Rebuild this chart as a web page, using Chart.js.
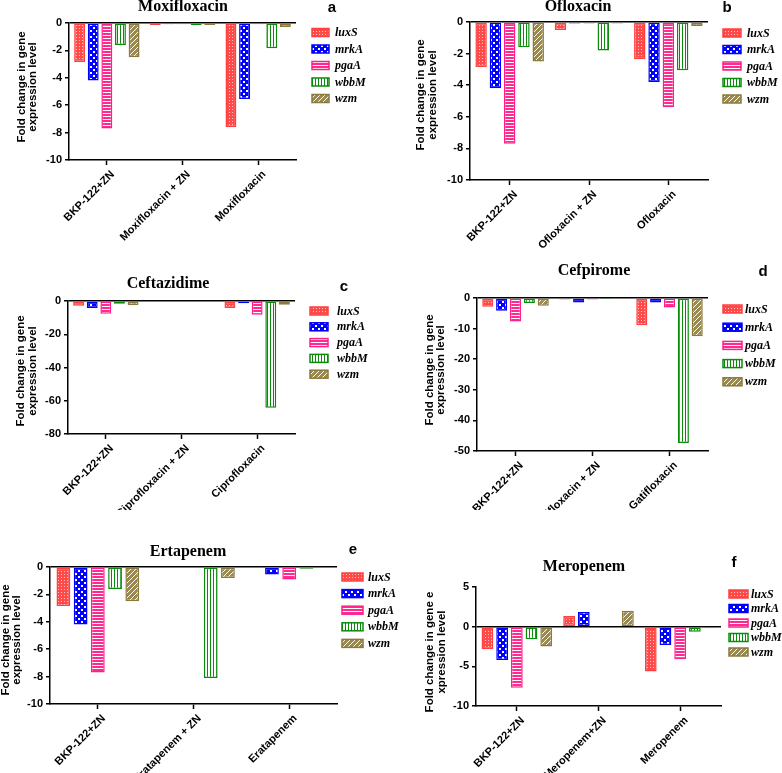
<!DOCTYPE html>
<html>
<head>
<meta charset="utf-8">
<script src="https://cdn.jsdelivr.net/npm/chart.js@4.4.1/dist/chart.umd.min.js"></script>
<style>
  html, body { margin: 0; padding: 0; background: #fff; }
  #wrap { position: relative; width: 782px; height: 773px; overflow: hidden; }
  #wrap canvas { position: absolute; }
</style>
</head>
<body>
<div id="wrap"></div>
<script>
// genes, one bar series each
const genes = ['luxS', 'mrkA', 'pgaA', 'wbbM', 'wzm'];

// rows follow the genes order: luxS, mrkA, pgaA, wbbM, wzm
const moxiLabels = ['BKP-122+ZN', 'Moxifloxacin + ZN', 'Moxifloxacin'];
const moxiValues = [
  [-2.85, -0.15, -7.6],
  [-4.2, -0.1, -5.55],
  [-7.7, -0.1, -0.1],
  [-1.6, -0.15, -1.85],
  [-2.5, -0.15, -0.3]
];

const oflxLabels = ['BKP-122+ZN', 'Ofloxacin + ZN', 'Ofloxacin'];
const oflxValues = [
  [-2.85, -0.5, -2.35],
  [-4.2, -0.1, -3.8],
  [-7.7, -0.1, -5.4],
  [-1.6, -1.8, -3.05],
  [-2.5, -0.1, -0.25]
];

const cftzLabels = ['BKP-122+ZN', 'Ciprofloxacin + ZN', 'Ciprofloxacin'];
const cftzValues = [
  [-2.85, -0.4, -4.2],
  [-4.2, -0.4, -1.3],
  [-7.7, -0.4, -8.2],
  [-1.6, -0.4, -64.2],
  [-2.5, -0.4, -2.2]
];

const cfpmLabels = ['BKP-122+ZN', 'Gatifloxacin + ZN', 'Gatifloxacin'];
const cfpmValues = [
  [-2.85, -0.5, -8.9],
  [-4.2, -1.5, -1.5],
  [-7.7, -0.5, -3.1],
  [-1.6, -0.1, -47.4],
  [-2.5, -0.3, -12.5]
];

const ertpLabels = ['BKP-122+ZN', 'Eratapenem + ZN', 'Eratapenem'];
const ertpValues = [
  [-2.85, 0, 0],
  [-4.2, 0, -0.55],
  [-7.7, 0, -0.92],
  [-1.6, -8.1, -0.12],
  [-2.5, -0.8, 0]
];

const mrpnLabels = ['BKP-122+ZN', 'Meropenem+ZN', 'Meropenem'];
const mrpnValues = [
  [-2.85, 1.35, -5.65],
  [-4.2, 1.85, -2.3],
  [-7.7, 0, -4.1],
  [-1.6, 0, -0.65],
  [-2.5, 2.0, -0.2]
];

const yTitle = ['Fold change in gene', 'expression level'];
const yTitleF = ['Fold change in gene e', 'xpression level'];

// fill patterns for the bars
function tile(w, h, draw) {
  const c = document.createElement('canvas');
  c.width = w; c.height = h;
  const g = c.getContext('2d');
  draw(g);
  return g.createPattern(c, 'repeat');
}

const fills = {
  luxS: tile(3, 3, g => {
    g.fillStyle = '#ff4a4a'; g.fillRect(0, 0, 3, 3);
    g.fillStyle = '#ffc2c2'; g.fillRect(1, 1, 1, 1);
  }),
  mrkA: tile(6, 6, g => {
    g.fillStyle = '#0000ff'; g.fillRect(0, 0, 6, 6);
    g.fillStyle = '#ffffff'; g.fillRect(0, 0, 2, 2); g.fillRect(3, 3, 2, 2);
  }),
  pgaA: tile(1, 3, g => {
    g.fillStyle = '#ff2a90'; g.fillRect(0, 0, 1, 3);
    g.fillStyle = '#ffffff'; g.fillRect(0, 2, 1, 1);
  }),
  wbbM: tile(3, 1, g => {
    g.fillStyle = '#ffffff'; g.fillRect(0, 0, 3, 1);
    g.fillStyle = '#0a8c0a'; g.fillRect(0, 0, 1, 1);
  }),
  wzm: tile(5, 5, g => {
    g.fillStyle = '#9c8a4c'; g.fillRect(0, 0, 5, 5);
    g.fillStyle = '#ffffff';
    for (let i = 0; i < 5; i++) g.fillRect(i, 4 - i, 1, 1);
  })
};
const edges = { luxS: '#ff4040', mrkA: '#0000ff', pgaA: '#ff1f8a', wbbM: '#0a8c0a', wzm: '#8a7a3c' };

const panels = [
  { labels: moxiLabels, values: moxiValues, title: 'Moxifloxacin', letter: 'a',
    x: 0, y: 0, w: 391, h: 250, plot: [69, 23, 296, 160], yMin: -10, yMax: 0, step: 2,
    titlePos: [183, 7], letterPos: [332, 8], yTitle: yTitle, yTitlePos: [27.5, 87],
    legend: [312, 32.5, 16.5, 335, 17] },
  { labels: oflxLabels, values: oflxValues, title: 'Ofloxacin', letter: 'b',
    x: 391, y: 0, w: 391, h: 250, plot: [79, 22, 317, 180], yMin: -10, yMax: 0, step: 2,
    titlePos: [187, 7], letterPos: [336, 8], yTitle: yTitle, yTitlePos: [36, 95],
    legend: [332, 33, 16.5, 356, 18] },
  { labels: cftzLabels, values: cftzValues, title: 'Ceftazidime', letter: 'c',
    x: 0, y: 250, w: 391, h: 260, plot: [68, 51, 295, 184], yMin: -80, yMax: 0, step: 20,
    titlePos: [168, 34], letterPos: [344, 37], yTitle: yTitle, yTitlePos: [27, 121],
    legend: [310, 61, 15.8, 337, 18] },
  { labels: cfpmLabels, values: cfpmValues, title: 'Cefpirome', letter: 'd',
    x: 391, y: 250, w: 391, h: 260, plot: [86, 48, 317, 201], yMin: -50, yMax: 0, step: 10,
    titlePos: [203, 21], letterPos: [372, 22], yTitle: yTitle, yTitlePos: [44.5, 120],
    legend: [332, 59, 18.2, 354, 19] },
  { labels: ertpLabels, values: ertpValues, title: 'Ertapenem', letter: 'e',
    x: 0, y: 510, w: 400, h: 263, plot: [50, 57, 337, 194], yMin: -10, yMax: 0, step: 2,
    titlePos: [188, 42], letterPos: [353, 40], yTitle: yTitle, yTitlePos: [11.5, 130],
    legend: [342, 67, 16.6, 368, 21] },
  { labels: mrpnLabels, values: mrpnValues, title: 'Meropenem', letter: 'f',
    x: 391, y: 510, w: 391, h: 263, plot: [85, 77, 330, 196], yMin: -10, yMax: 5, step: 5,
    titlePos: [193, 57], letterPos: [343, 53], yTitle: yTitleF, yTitlePos: [45, 142],
    legend: [338, 84, 14.5, 360, 19] }
];

const decorations = {
  id: 'decorations',
  afterDraw(chart, args, opts) {
    const p = opts.panel;
    const ctx = chart.ctx;
    ctx.save();
    ctx.fillStyle = '#000';
    ctx.textAlign = 'center';
    ctx.textBaseline = 'middle';
    ctx.font = "bold 16px 'Liberation Serif', 'Times New Roman', serif";
    ctx.fillText(p.title, p.titlePos[0], p.titlePos[1]);
    ctx.font = "bold 15px 'Liberation Sans', Arial, sans-serif";
    ctx.fillText(p.letter, p.letterPos[0], p.letterPos[1]);

    ctx.save();
    ctx.translate(p.yTitlePos[0], p.yTitlePos[1]);
    ctx.rotate(-Math.PI / 2);
    ctx.font = "bold 11.5px 'Liberation Sans', Arial, sans-serif";
    ctx.fillText(p.yTitle[0], 0, -5.8);
    ctx.fillText(p.yTitle[1], 0, 5.8);
    ctx.restore();

    const [lx, ly, gap, tx, sw] = p.legend;
    chart.data.datasets.forEach((ds, i) => {
      const y = ly + i * gap;
      ctx.fillStyle = ds.backgroundColor;
      ctx.fillRect(lx, y - 4, sw, 8);
      ctx.strokeStyle = ds.borderColor;
      ctx.lineWidth = 1.5;
      ctx.strokeRect(lx, y - 4, sw, 8);
      ctx.fillStyle = '#000';
      ctx.textAlign = 'left';
      ctx.font = "italic bold 12px 'Liberation Serif', 'Times New Roman', serif";
      ctx.fillText(ds.label, tx, y + 0.5);
    });
    ctx.restore();
  }
};

const wrap = document.getElementById('wrap');
const tickFont = { family: "'Liberation Sans', Arial, sans-serif", weight: 'bold', size: 11 };

panels.forEach(p => {
  const canvas = document.createElement('canvas');
  canvas.width = p.w;
  canvas.height = p.h;
  canvas.style.left = p.x + 'px';
  canvas.style.top = p.y + 'px';
  wrap.appendChild(canvas);
  const [pl, pt, pr, pb] = p.plot;

  new Chart(canvas, {
    type: 'bar',
    data: {
      labels: p.labels,
      datasets: genes.map((g, i) => ({
        label: g,
        data: p.values[i],
        backgroundColor: fills[g],
        borderColor: edges[g],
        borderWidth: 1.5,
        borderSkipped: false,
        categoryPercentage: 0.9,
        barPercentage: 0.8
      }))
    },
    options: {
      responsive: false,
      animation: false,
      events: [],
      layout: { padding: { left: 0, top: pt, right: p.w - pr, bottom: 0 } },
      plugins: {
        legend: { display: false },
        title: { display: false },
        tooltip: { enabled: false },
        decorations: { panel: p }
      },
      scales: {
        x: {
          grid: { display: true, drawOnChartArea: false, offset: false, tickLength: 5, tickColor: '#000', tickWidth: 1.5 },
          border: { display: true, color: '#000', width: 1.5 },
          ticks: { color: '#000', font: tickFont, maxRotation: 45, minRotation: 45, autoSkip: false, padding: 3, labelOffset: 6 },
          afterFit: s => { s.height = p.h - pb; }
        },
        y: {
          min: p.yMin,
          max: p.yMax,
          z: 1,
          ticks: { stepSize: p.step, color: '#000', font: tickFont, padding: 3 },
          grid: {
            color: c => (c.tick && c.tick.value === 0 ? '#000' : 'rgba(0,0,0,0)'),
            lineWidth: 1.5, tickColor: '#000', tickLength: 4, tickWidth: 1.5
          },
          border: { display: true, color: '#000', width: 1.5 },
          afterFit: s => { s.width = pl; }
        }
      }
    },
    plugins: [decorations]
  });
});
</script>
</body>
</html>
